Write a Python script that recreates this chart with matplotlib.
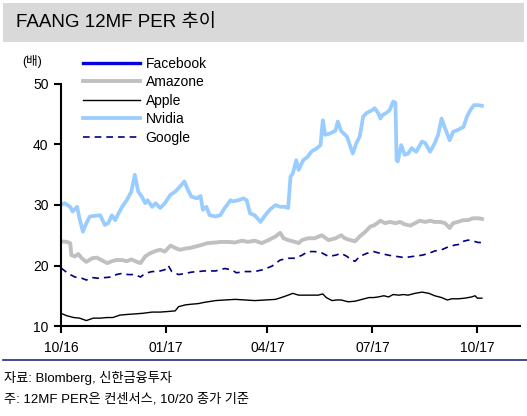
import matplotlib
matplotlib.use('Agg')
import matplotlib.pyplot as plt
from matplotlib.patches import Rectangle
from matplotlib.lines import Line2D

plt.rcParams['font.family'] = ['Liberation Sans', 'Noto Sans CJK KR', 'DejaVu Sans']

# days since 2016-10-20
nvidia_x = [0, 3, 8, 10, 14, 16, 19, 22, 25, 29, 34, 38, 41, 44, 47, 49, 53, 57, 61, 64,
            67, 70, 73, 75, 79, 82, 86, 90, 95, 99, 103, 107, 110, 113, 118, 121, 123, 126,
            129, 134, 138, 142, 147, 149, 154, 158, 161, 164, 168, 173, 177, 181, 186, 190,
            194, 197, 199, 201, 204, 206, 210, 214, 217, 222, 225, 227, 229, 233, 238, 240,
            243, 248, 251, 253, 256, 259, 262, 265, 270, 272, 275, 277, 279, 282, 285, 288,
            290, 291, 292, 295, 298, 301, 304, 308, 313, 316, 320, 324, 327, 330, 333, 337,
            340, 344, 349, 352, 355, 358, 362, 365]
nvidia_y = [30.0, 30.3, 29.7, 28.9, 29.7, 27.8, 25.6, 27.0, 28.1, 28.2, 28.3, 26.7, 27.0,
            28.3, 27.5, 28.3, 29.7, 30.8, 32.2, 35.0, 32.2, 31.4, 30.3, 30.8, 29.7, 30.3,
            29.5, 30.3, 31.7, 32.2, 33.0, 33.9, 32.5, 31.4, 31.1, 31.5, 29.2, 29.7, 28.3,
            28.1, 28.3, 29.5, 30.8, 30.6, 30.8, 31.1, 30.8, 28.6, 28.3, 27.2, 28.3, 29.2,
            30.0, 29.7, 29.7, 29.5, 34.7, 35.2, 37.4, 35.8, 37.4, 38.0, 38.8, 39.4, 39.9,
            44.0, 41.6, 41.8, 42.3, 43.8, 42.2, 41.3, 39.6, 38.5, 40.2, 41.3, 44.6, 45.2,
            45.7, 46.0, 45.2, 44.3, 44.9, 45.2, 45.7, 47.1, 46.9, 37.4, 37.2, 39.9, 38.3,
            38.5, 39.4, 38.8, 40.5, 40.2, 38.8, 40.2, 41.6, 44.3, 42.7, 40.7, 42.1, 42.4,
            42.9, 44.6, 45.7, 46.5, 46.5, 46.4]

amazon_x = [0, 5, 8, 9, 12, 15, 18, 22, 27, 31, 35, 40, 44, 48, 53, 57, 61, 66, 69, 73, 77,
            82, 86, 90, 95, 99, 103, 108, 112, 116, 122, 127, 134, 139, 145, 151, 157, 162,
            168, 174, 180, 186, 190, 193, 197, 203, 206, 209, 214, 220, 226, 232, 238, 243,
            246, 251, 255, 259, 264, 268, 272, 277, 281, 285, 290, 294, 298, 303, 307, 311,
            316, 320, 324, 329, 333, 337, 340, 344, 349, 353, 357, 362, 365]
amazon_y = [24.0, 23.9, 23.7, 21.7, 21.5, 21.9, 21.2, 20.6, 21.2, 21.3, 20.9, 20.4, 20.7,
            20.9, 20.9, 20.7, 21.0, 20.6, 20.4, 21.5, 22.0, 22.4, 22.6, 22.3, 23.3, 22.9,
            22.6, 22.8, 22.9, 23.1, 23.4, 23.7, 23.8, 23.9, 23.9, 23.8, 24.1, 23.9, 24.1,
            23.7, 24.2, 24.8, 25.4, 24.5, 24.2, 23.9, 23.7, 24.2, 24.5, 24.5, 25.0, 24.2,
            24.5, 25.0, 24.5, 24.2, 24.0, 24.8, 25.6, 26.4, 26.7, 27.4, 27.0, 27.2, 27.0,
            27.2, 26.8, 26.6, 27.0, 27.4, 27.2, 27.4, 27.2, 27.2, 27.0, 26.2, 27.0, 27.2,
            27.5, 27.5, 27.8, 27.8, 27.7]

google_x = [0, 6, 12, 18, 22, 27, 32, 38, 44, 48, 53, 58, 64, 69, 73, 79, 84, 90, 93, 96,
            102, 108, 113, 119, 124, 134, 142, 148, 152, 160, 168, 175, 183, 190, 197, 203,
            209, 214, 220, 226, 232, 238, 243, 248, 252, 255, 259, 265, 271, 277, 284, 291,
            298, 305, 313, 319, 324, 330, 336, 342, 346, 349, 353, 358, 362, 365]
google_y = [19.6, 18.7, 18.1, 17.9, 17.6, 18.0, 17.9, 18.0, 18.1, 18.5, 18.7, 18.5, 18.5,
            18.1, 18.7, 19.0, 19.0, 19.3, 20.0, 19.0, 18.5, 18.7, 18.9, 19.0, 19.1, 19.1,
            19.5, 19.3, 18.8, 19.0, 19.0, 19.3, 19.9, 20.9, 21.2, 21.2, 21.7, 22.3, 22.3,
            22.1, 21.5, 21.7, 22.0, 21.5, 20.9, 20.7, 21.5, 22.0, 22.3, 22.0, 21.7, 21.5,
            21.3, 21.5, 21.7, 22.0, 22.4, 22.6, 23.1, 23.4, 23.5, 24.0, 24.2, 24.0, 23.8,
            23.8]

apple_x = [0, 5, 11, 16, 22, 28, 34, 40, 45, 51, 57, 64, 71, 79, 86, 93, 99, 102, 108, 113,
           119, 124, 134, 142, 151, 160, 168, 177, 186, 191, 197, 201, 206, 212, 217, 223,
           227, 230, 235, 239, 243, 249, 255, 261, 267, 271, 275, 280, 284, 288, 293, 297,
           301, 307, 313, 319, 324, 330, 335, 339, 345, 350, 356, 359, 361, 365]
apple_y = [12.1, 11.7, 11.4, 11.3, 10.9, 11.3, 11.3, 11.4, 11.4, 11.8, 11.9, 12.0, 12.1,
           12.3, 12.3, 12.4, 12.5, 13.2, 13.5, 13.6, 13.7, 13.9, 14.2, 14.3, 14.4, 14.3,
           14.2, 14.3, 14.4, 14.7, 15.1, 15.4, 15.1, 15.1, 15.1, 15.1, 15.3, 14.7, 14.2,
           14.3, 14.3, 14.0, 14.1, 14.4, 14.7, 14.7, 14.8, 15.0, 14.8, 15.2, 15.1, 15.2,
           15.1, 15.4, 15.6, 15.4, 15.0, 14.7, 14.3, 14.5, 14.5, 14.6, 14.8, 15.0, 14.6,
           14.6]

tick_days = [0, 91, 179, 270, 361]
tick_labels = ['10/16', '01/17', '04/17', '07/17', '10/17']

fig = plt.figure(figsize=(5.27, 4.16), dpi=100)

# title band
fig.patches.append(Rectangle((3/527, 374/416), 521/527, 39/416, transform=fig.transFigure,
                             facecolor='#d9d9d9', edgecolor='none'))
fig.text(16/527, 393/416, 'FAANG 12MF PER 추이', fontsize=13.5, va='center', ha='left')

ax = fig.add_axes([61/527, 90/416, 459/527, 242/416])
ax.plot(amazon_x, amazon_y, color='#c0c0c0', lw=2.8, label='Amazone')
ax.plot(apple_x, apple_y, color='black', lw=1.0, label='Apple')
ax.plot(nvidia_x, nvidia_y, color='#99ccff', lw=2.7, label='Nvidia')
ax.plot(google_x, google_y, color='#000080', lw=1.2, ls=(0, (4, 3)), label='Google')

ax.set_xlim(0, 398)
ax.set_ylim(10, 50)
ax.set_yticks([10, 20, 30, 40, 50])
ax.set_xticks(tick_days)
ax.set_xticklabels(tick_labels)
for s in ['top', 'right']:
    ax.spines[s].set_visible(False)
for s in ['left', 'bottom']:
    ax.spines[s].set_linewidth(1.5)
ax.tick_params(axis='both', direction='out', length=5, width=1.5, labelsize=10, pad=4)
ax.tick_params(axis='x', pad=6)

fig.text(22/527, 355/416, '(배)', fontsize=9, va='center', ha='left')

handles = [Line2D([], [], color='#0000e0', lw=2.4),
           Line2D([], [], color='#c0c0c0', lw=2.8),
           Line2D([], [], color='black', lw=1.0),
           Line2D([], [], color='#99ccff', lw=2.7),
           Line2D([], [], color='#000080', lw=1.2, ls=(0, (4, 3)))]
labels = ['Facebook', 'Amazone', 'Apple', 'Nvidia', 'Google']
fig.legend(handles, labels, loc='upper left', bbox_to_anchor=(77/527, 365/416),
           frameon=False, fontsize=10, handlelength=4.1, handletextpad=0.45,
           labelspacing=0.33, borderaxespad=0)

# footer
fig.add_artist(Line2D([3/527, 1], [56/416, 56/416], transform=fig.transFigure,
                      color='#1f2a80', lw=1.2))
fig.text(4/527, 38/416, '자료: Blomberg, 신한금융투자', fontsize=9.5, va='center', ha='left')
fig.text(4/527, 17/416, '주: 12MF PER은 컨센서스, 10/20 종가 기준', fontsize=9.5,
         va='center', ha='left')

fig.savefig('out.png', dpi=100)
